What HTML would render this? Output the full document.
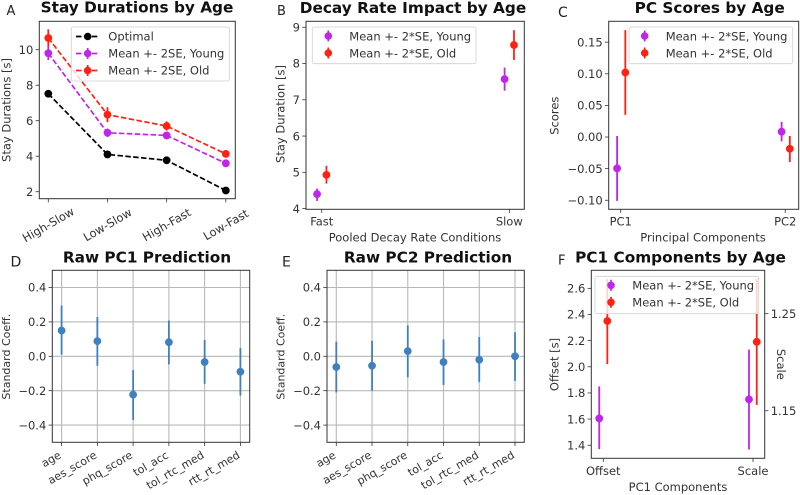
<!DOCTYPE html>
<html>
<head>
<meta charset="utf-8">
<title>Age Group Figure</title>
<style>
html,body{margin:0;padding:0;background:#fff;}
svg{display:block;font-family:"DejaVu Sans","Liberation Sans",sans-serif;fill:#222;filter:blur(0.35px);}
.title{font-size:15.3px;font-weight:bold;text-anchor:middle;fill:#111;}
.plabel{font-size:14px;fill:#222;}
.alabel{font-size:11.5px;text-anchor:middle;fill:#333;}
.tick{font-size:11.5px;fill:#333;}
.rot{font-size:11px;}
.leg{font-size:11.5px;fill:#333;}
.frame{fill:none;stroke:#333;stroke-width:1;}
.lbox{fill:#fff;fill-opacity:.8;stroke:#d0d0d0;stroke-width:.8;}
</style>
</head>
<body>
<svg id="fig" width="800" height="495" viewBox="0 0 800 495" xmlns="http://www.w3.org/2000/svg">
<rect width="800" height="495" fill="#fff"/>

<g>
  <g id="marks-a"></g>
  <rect class="frame" x="39.3" y="21.3" width="196" height="177.4"/>
  <text class="plabel" x="6.5" y="15" style="font-size:13px">A</text>
  <text class="title" x="137" y="12.7">Stay Durations by Age</text>
  <text class="alabel" transform="translate(10.5,110) rotate(-90)">Stay Durations [s]</text>
  <g>
    <rect class="lbox" x="71.3" y="27" width="158" height="54" rx="2"/>
    <line x1="76" x2="99.3" y1="36.5" y2="36.5" stroke="#000" stroke-width="1.7" stroke-dasharray="5.5 2.4"/>
    <circle cx="87.7" cy="36.5" r="3.8" fill="#000"/>
    <text class="leg" x="108.3" y="40.5">Optimal</text>
    <line x1="76" x2="99.3" y1="53.5" y2="53.5" stroke="#c026ea" stroke-width="1.7" stroke-dasharray="5.5 2.4"/>
    <line x1="87.7" x2="87.7" y1="48" y2="59" stroke="#c026ea" stroke-width="1.7"/>
    <circle cx="87.7" cy="53.5" r="3.8" fill="#c026ea"/>
    <text class="leg" x="108.3" y="57.5">Mean +- 2SE, Young</text>
    <line x1="76" x2="99.3" y1="70.5" y2="70.5" stroke="#ff2212" stroke-width="1.7" stroke-dasharray="5.5 2.4"/>
    <line x1="87.7" x2="87.7" y1="65" y2="76" stroke="#ff2212" stroke-width="1.7"/>
    <circle cx="87.7" cy="70.5" r="3.8" fill="#ff2212"/>
    <text class="leg" x="108.3" y="74.5">Mean +- 2SE, Old</text>
  </g>
</g>

<g>
  <g id="marks-b"></g>
  <rect class="frame" x="306" y="21.3" width="218.3" height="188"/>
  <text class="plabel" x="277" y="15" style="font-size:13px">B</text>
  <text class="title" x="413" y="13">Decay Rate Impact by Age</text>
  <text class="alabel" transform="translate(284.7,114) rotate(-90)">Stay Duration [s]</text>
  <text class="alabel" x="415" y="241.7">Pooled Decay Rate Conditions</text>
  <g>
    <rect class="lbox" x="312.3" y="27" width="163.7" height="36.7" rx="2"/>
    <line x1="328.3" x2="328.3" y1="30.5" y2="41.5" stroke="#c026ea" stroke-width="1.7"/>
    <circle cx="328.3" cy="36" r="3.8" fill="#c026ea"/>
    <text class="leg" x="349.3" y="40.5">Mean +- 2*SE, Young</text>
    <line x1="328.3" x2="328.3" y1="47.5" y2="58.5" stroke="#ff2212" stroke-width="1.7"/>
    <circle cx="328.3" cy="53" r="3.8" fill="#ff2212"/>
    <text class="leg" x="349.3" y="57.5">Mean +- 2*SE, Old</text>
  </g>
</g>

<g>
  <g id="marks-c"></g>
  <rect class="frame" x="608.7" y="21.3" width="190" height="188"/>
  <text class="plabel" x="558" y="17">C</text>
  <text class="title" x="709.7" y="13">PC Scores by Age</text>
  <text class="alabel" transform="translate(558.3,115.7) rotate(-90)">Scores</text>
  <text class="alabel" x="703" y="241.7">Principal Components</text>
  <g>
    <rect class="lbox" x="629" y="27" width="163.7" height="36.7" rx="2"/>
    <line x1="644.7" x2="644.7" y1="30.5" y2="41.5" stroke="#c026ea" stroke-width="1.7"/>
    <circle cx="644.7" cy="36" r="3.8" fill="#c026ea"/>
    <text class="leg" x="665.7" y="40.5">Mean +- 2*SE, Young</text>
    <line x1="644.7" x2="644.7" y1="47.5" y2="58.5" stroke="#ff2212" stroke-width="1.7"/>
    <circle cx="644.7" cy="53" r="3.8" fill="#ff2212"/>
    <text class="leg" x="665.7" y="57.5">Mean +- 2*SE, Old</text>
  </g>
</g>

<g>
  <g id="marks-d"></g>
  <rect class="frame" x="52.3" y="270.3" width="197.4" height="172"/>
  <text class="plabel" x="10.5" y="266.3">D</text>
  <text class="title" x="147" y="262.7">Raw PC1 Prediction</text>
  <text class="alabel" style="font-size:11px" transform="translate(10,356.7) rotate(-90)">Standard Coeff.</text>
</g>

<g>
  <g id="marks-e"></g>
  <rect class="frame" x="327" y="270.3" width="197.3" height="172"/>
  <text class="plabel" x="282" y="266.3">E</text>
  <text class="title" x="428" y="262.7">Raw PC2 Prediction</text>
  <text class="alabel" style="font-size:11px" transform="translate(284.7,356.7) rotate(-90)">Standard Coeff.</text>
</g>

<g>
  <g id="marks-f"></g>
  <rect class="frame" x="591.3" y="270.3" width="173.4" height="188"/>
  <text class="plabel" x="558" y="264.3" style="font-size:13px">F</text>
  <text class="title" x="680.5" y="262.7">PC1 Components by Age</text>
  <text class="alabel" transform="translate(558.3,364.5) rotate(-90)">Offset [s]</text>
  <text class="alabel" transform="translate(777,364.3) rotate(90)">Scale</text>
  <text class="alabel" x="678" y="491">PC1 Components</text>
  <g>
    <rect class="lbox" x="595" y="276.3" width="163.7" height="37.4" rx="2"/>
    <line x1="611" x2="611" y1="279.8" y2="290.8" stroke="#c026ea" stroke-width="1.7"/>
    <circle cx="611" cy="285.3" r="3.8" fill="#c026ea"/>
    <text class="leg" x="632.3" y="289.5">Mean +- 2*SE, Young</text>
    <line x1="611" x2="611" y1="296.8" y2="307.8" stroke="#ff2212" stroke-width="1.7"/>
    <circle cx="611" cy="302.3" r="3.8" fill="#ff2212"/>
    <text class="leg" x="632.3" y="306.5">Mean +- 2*SE, Old</text>
  </g>
</g>
</svg>

<script>
// ---------- Panel A data ----------
const categoriesA = ['High-Slow', 'Low-Slow', 'High-Fast', 'Low-Fast'];
const optimalA = [7.52, 4.10, 3.77, 2.07];
const youngA = [9.80, 5.32, 5.17, 3.60];
const youngLowA = [9.42, 5.08, 4.98, 3.44];
const youngHighA = [10.18, 5.56, 5.36, 3.76];
const oldA = [10.66, 6.34, 5.70, 4.13];
const oldLowA = [10.18, 5.92, 5.44, 3.92];
const oldHighA = [11.15, 6.76, 5.96, 4.34];
const yTicksA = [2, 4, 6, 8, 10];

// ---------- Panel B data ----------
const categoriesB = ['Fast', 'Slow'];
const youngB = [4.40, 7.57];
const youngLowB = [4.21, 7.25];
const youngHighB = [4.55, 7.89];
const oldB = [4.93, 8.51];
const oldLowB = [4.69, 8.10];
const oldHighB = [5.18, 8.92];
const yTicksB = [4, 5, 6, 7, 8, 9];

// ---------- Panel C data ----------
const categoriesC = ['PC1', 'PC2'];
const youngC = [-0.0495, 0.0084];
const youngLowC = [-0.101, -0.0068];
const youngHighC = [0.0016, 0.024];
const oldC = [0.102, -0.0185];
const oldLowC = [0.035, -0.0395];
const oldHighC = [0.169, 0.0016];
const yTicksC = [-0.10, -0.05, 0, 0.05, 0.10, 0.15];
const yTickLabelsC = ['\u22120.10', '\u22120.05', '0.00', '0.05', '0.10', '0.15'];

// ---------- Panels D and E data ----------
const predictors = ['age', 'aes_score', 'phq_score', 'tol_acc', 'tol_rtc_med', 'rtt_rt_med'];
const coefD = [0.150, 0.088, -0.223, 0.082, -0.033, -0.090];
const lowD = [0.010, -0.055, -0.370, -0.047, -0.160, -0.228];
const highD = [0.295, 0.228, -0.080, 0.208, 0.095, 0.048];
const coefE = [-0.062, -0.055, 0.030, -0.033, -0.020, 0.000];
const lowE = [-0.210, -0.200, -0.122, -0.167, -0.150, -0.143];
const highE = [0.085, 0.090, 0.180, 0.098, 0.112, 0.140];
const yTicksCoef = [-0.4, -0.2, 0, 0.2, 0.4];
const yTickLabelsCoef = ['\u22120.4', '\u22120.2', '0.0', '0.2', '0.4'];

// ---------- Panel F data ----------
const categoriesF = ['Offset', 'Scale'];
const youngOffsetF = [1.605];
const youngOffsetLowF = [1.37];
const youngOffsetHighF = [1.85];
const oldOffsetF = [2.35];
const oldOffsetLowF = [2.02];
const oldOffsetHighF = [2.67];
const youngScaleF = [1.1617];
const youngScaleLowF = [1.11];
const youngScaleHighF = [1.213];
const oldScaleF = [1.221];
const oldScaleLowF = [1.156];
const oldScaleHighF = [1.286];
const yTicksF = [1.4, 1.6, 1.8, 2.0, 2.2, 2.4, 2.6];
const yTicksRightF = [1.15, 1.25];

const NS = 'http://www.w3.org/2000/svg';
const YOUNG = '#c026ea';
const OLD = '#ff2212';
const OPTIMAL = '#000000';
const BLUE = '#3f80bd';

function scale(d0, d1, r0, r1) {
  return function (v) { return r0 + (v - d0) * (r1 - r0) / (d1 - d0); };
}
function node(tag, parent, attrs) {
  const el = document.createElementNS(NS, tag);
  for (const k in attrs) el.setAttribute(k, attrs[k]);
  parent.appendChild(el);
  return el;
}
function yAxis(g, y, ticks, labels, xEdge, dir, prefix) {
  ticks.forEach(function (t, i) {
    const tl = node('line', g, {x1: xEdge, x2: xEdge + dir * 3.7, y1: y(t), y2: y(t), stroke: '#333', 'stroke-width': 0.8});
    
    
    const tx = node('text', g, {x: xEdge + dir * 6, y: y(t) + 4.2, class: 'tick', 'text-anchor': dir < 0 ? 'end' : 'start'});
    
    
    tx.textContent = labels[i];
  });
}
function xTicks(g, x, cats, yEdge, prefix) {
  cats.forEach(function (c, i) {
    const tl = node('line', g, {x1: x(i), x2: x(i), y1: yEdge, y2: yEdge + 3.7, stroke: '#333', 'stroke-width': 0.8});
    
    
  });
}
function xLabelsFlat(g, x, cats, baseY, prefix) {
  cats.forEach(function (c, i) {
    const tx = node('text', g, {x: x(i), y: baseY, class: 'tick', 'text-anchor': 'middle'});
    
    
    tx.textContent = c;
  });
}
function grid(g, x, y, cats, yTicks, box) {
  yTicks.forEach(function (t) {
    const gl = node('line', g, {x1: box.l, x2: box.r, y1: y(t), y2: y(t), stroke: '#b8b8b8', 'stroke-width': 1.1});
    
    
  });
  cats.forEach(function (c, i) {
    const gl = node('line', g, {x1: x(i), x2: x(i), y1: box.t, y2: box.b, stroke: '#b8b8b8', 'stroke-width': 1.1});
    
    
  });
}
function points(g, xs, means, lows, highs, y, color, series) {
  means.forEach(function (m, i) {
    const bar = node('line', g, {x1: xs[i], x2: xs[i], y1: y(lows[i]), y2: y(highs[i]), stroke: color, 'stroke-width': 1.8});
    
    
    const pt = node('circle', g, {cx: xs[i], cy: y(m), r: 3.9, fill: color});
    
    
  });
}
function dashed(g, xs, vals, y, color, series) {
  const d = vals.map(function (v, i) { return xs[i] + ',' + y(v); }).join(' ');
  const pl = node('polyline', g, {points: d, fill: 'none', stroke: color, 'stroke-width': 1.7, 'stroke-dasharray': '5.5 2.4'});
  
  
}
function idx(arr, off) { return arr.map(function (_, i) { return i + off; }); }

// Panel A
(function () {
  const g = document.getElementById('marks-a');
  const x = scale(-0.152, 3.16, 39.3, 235.3);
  const y = scale(1.606, 11.6, 198.7, 21.3);
  const xs = categoriesA.map(function (_, i) { return x(i); });
  yAxis(g, y, yTicksA, yTicksA.map(String), 39.3, -1, 'panel-a');
  xTicks(g, x, categoriesA, 198.7, 'panel-a');
  categoriesA.forEach(function (c, i) {
    const tx = node('text', g, {class: 'tick', 'text-anchor': 'middle', transform: 'translate(' + x(i) + ',224.7) rotate(-30)', y: 4});
    
    
    tx.textContent = c;
  });
  dashed(g, xs, optimalA, y, OPTIMAL, 'optimal');
  dashed(g, xs, youngA, y, YOUNG, 'young');
  dashed(g, xs, oldA, y, OLD, 'old');
  points(g, xs, optimalA, optimalA, optimalA, y, OPTIMAL, 'optimal');
  points(g, xs, youngA, youngLowA, youngHighA, y, YOUNG, 'young');
  points(g, xs, oldA, oldLowA, oldHighA, y, OLD, 'old');
})();

// Panel B
(function () {
  const g = document.getElementById('marks-b');
  const x = scale(-0.084, 1.08, 306, 524.3);
  const y = scale(3.98, 9.165, 209.3, 21.3);
  yAxis(g, y, yTicksB, yTicksB.map(String), 306, -1, 'panel-b');
  xTicks(g, x, categoriesB, 209.3, 'panel-b');
  xLabelsFlat(g, x, categoriesB, 225.7, 'panel-b');
  points(g, idx(categoriesB, -0.025).map(x), youngB, youngLowB, youngHighB, y, YOUNG, 'young');
  points(g, idx(categoriesB, 0.025).map(x), oldB, oldLowB, oldHighB, y, OLD, 'old');
})();

// Panel C
(function () {
  const g = document.getElementById('marks-c');
  const x = scale(-0.073, 1.082, 608.7, 798.7);
  const y = scale(-0.1143, 0.183, 209.3, 21.3);
  yAxis(g, y, yTicksC, yTickLabelsC, 608.7, -1, 'panel-c');
  xTicks(g, x, categoriesC, 209.3, 'panel-c');
  xLabelsFlat(g, x, categoriesC, 225.7, 'panel-c');
  points(g, idx(categoriesC, -0.022).map(x), youngC, youngLowC, youngHighC, y, YOUNG, 'young');
  points(g, idx(categoriesC, 0.028).map(x), oldC, oldLowC, oldHighC, y, OLD, 'old');
})();

// Panels D, E
function coefPanel(id, prefix, box, coef, low, high) {
  const g = document.getElementById(id);
  const x = scale(-0.26, 5.26, box.l, box.r);
  const y = scale(-0.5, 0.5, box.b, box.t);
  grid(g, x, y, predictors, yTicksCoef, box);
  yAxis(g, y, yTicksCoef, yTickLabelsCoef, box.l, -1, prefix);
  xTicks(g, x, predictors, box.b, prefix);
  predictors.forEach(function (c, i) {
    const tx = node('text', g, {class: 'tick rot', 'text-anchor': 'end', transform: 'translate(' + (x(i) + 0.3) + ',' + (box.b + 15) + ') rotate(-30)'});
    
    
    tx.textContent = c;
  });
  points(g, predictors.map(function (_, i) { return x(i); }), coef, low, high, y, BLUE, prefix + '-coef');
}
coefPanel('marks-d', 'panel-d', {l: 52.3, r: 249.7, t: 270.3, b: 442.3}, coefD, lowD, highD);
coefPanel('marks-e', 'panel-e', {l: 327, r: 524.3, t: 270.3, b: 442.3}, coefE, lowE, highE);

// Panel F
(function () {
  const g = document.getElementById('marks-f');
  const x = scale(-0.08, 1.078, 591.3, 764.7);
  const y = scale(1.30, 2.738, 458.3, 270.3);
  const yR = scale(1.101, 1.2947, 458.3, 270.3);
  yAxis(g, y, yTicksF, yTicksF.map(function (v) { return v.toFixed(1); }), 591.3, -1, 'panel-f');
  yAxis(g, yR, yTicksRightF, yTicksRightF.map(function (v) { return v.toFixed(2); }), 764.7, 1, 'panel-f-right');
  xTicks(g, x, categoriesF, 458.3, 'panel-f');
  xLabelsFlat(g, x, categoriesF, 475, 'panel-f');
  points(g, [x(-0.027)], youngOffsetF, youngOffsetLowF, youngOffsetHighF, y, YOUNG, 'young-offset');
  points(g, [x(0.027)], oldOffsetF, oldOffsetLowF, oldOffsetHighF, y, OLD, 'old-offset');
  points(g, [x(0.973)], youngScaleF, youngScaleLowF, youngScaleHighF, yR, YOUNG, 'young-scale');
  points(g, [x(1.025)], oldScaleF, oldScaleLowF, oldScaleHighF, yR, OLD, 'old-scale');
})();
</script>
</body>
</html>
